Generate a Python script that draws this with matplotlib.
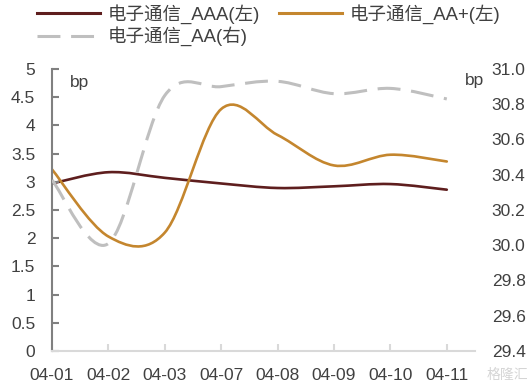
import numpy as np
import matplotlib
matplotlib.use("Agg")
import matplotlib.pyplot as plt
from matplotlib.path import Path
from matplotlib.patches import PathPatch
from matplotlib.lines import Line2D

plt.rcParams['font.family'] = ['Liberation Sans', 'Noto Sans CJK SC']

# 数据
dates = ["04-01", "04-02", "04-03", "04-07", "04-08", "04-09", "04-10", "04-11"]
aaa = [2.97, 3.17, 3.07, 2.97, 2.89, 2.92, 2.96, 2.86]        # 电子通信_AAA(左)
aa_plus = [3.22, 2.03, 2.10, 4.29, 3.83, 3.29, 3.48, 3.36]    # 电子通信_AA+(左)
aa = [30.37, 30.01, 30.85, 30.90, 30.93, 30.86, 30.89, 30.83]  # 电子通信_AA(右)

left_ticks = [0, 0.5, 1, 1.5, 2, 2.5, 3, 3.5, 4, 4.5, 5]
right_ticks = [29.4, 29.6, 29.8, 30.0, 30.2, 30.4, 30.6, 30.8, 31.0]

c_aaa = "#5E1E1E"
c_aap = "#C4862E"
c_aa = "#BFBFBF"
c_txt = "#404040"


def smooth_path(x, y):
    # 平滑曲线 (Catmull-Rom -> 贝塞尔控制点)
    x = np.asarray(x, float)
    y = np.asarray(y, float)
    n = len(x)
    tx = np.empty(n)
    ty = np.empty(n)
    for i in range(n):
        a = max(i - 1, 0)
        b = min(i + 1, n - 1)
        tx[i] = (x[b] - x[a]) / 2
        ty[i] = (y[b] - y[a]) / 2
    verts = [(x[0], y[0])]
    codes = [Path.MOVETO]
    for i in range(n - 1):
        verts += [(x[i] + tx[i] / 3, y[i] + ty[i] / 3),
                  (x[i + 1] - tx[i + 1] / 3, y[i + 1] - ty[i + 1] / 3),
                  (x[i + 1], y[i + 1])]
        codes += [Path.CURVE4] * 3
    return Path(verts, codes)


fig = plt.figure(figsize=(5.32, 3.9), dpi=100)
ax = fig.add_axes([52 / 532, 39 / 390, 423 / 532, 282 / 390])
ax2 = ax.twinx()

xs = np.arange(len(dates))
ax.add_patch(PathPatch(smooth_path(xs, aaa), fill=False, edgecolor=c_aaa, lw=1.9, capstyle='round'))
ax.add_patch(PathPatch(smooth_path(xs, aa_plus), fill=False, edgecolor=c_aap, lw=1.9, capstyle='round'))
ax2.add_patch(PathPatch(smooth_path(xs, aa), fill=False, edgecolor=c_aa, lw=2.2,
                        linestyle=(0, (7.5, 3.5))))

ax.set_xlim(0, 7.5)
ax.set_ylim(0, 5)
ax2.set_ylim(29.4, 31.0)

ax.set_xticks(xs)
ax.set_xticklabels(dates)
ax.set_yticks(left_ticks)
ax.set_yticklabels([f"{v:g}" for v in left_ticks])
ax2.set_yticks(right_ticks)
ax2.set_yticklabels([f"{v:.1f}" for v in right_ticks])

for s in ["top", "right"]:
    ax.spines[s].set_visible(False)
for s in ax2.spines.values():
    s.set_visible(False)
ax.spines["left"].set_color("#808080")
ax.spines["left"].set_linewidth(1.5)
ax.spines["bottom"].set_color("#D9D9D9")
ax.spines["bottom"].set_linewidth(1.5)

ax.tick_params(axis='y', direction='in', length=5, width=1.5, color="#808080",
               labelsize=12.5, labelcolor=c_txt, pad=12)
ax.tick_params(axis='x', direction='in', length=5, width=1.5, color="#D9D9D9",
               labelsize=12.5, labelcolor=c_txt, pad=12)
ax2.tick_params(axis='y', length=0, labelsize=12.5, labelcolor=c_txt, pad=12)

fig.text(70 / 532, 1 - 83 / 390, "bp", fontsize=12.5, color=c_txt, va='center', ha='left')
fig.text(465 / 532, 1 - 80 / 390, "bp", fontsize=12.5, color=c_txt, va='center', ha='left')

# 图例
handles = [Line2D([], [], color=c_aaa, lw=2.2),
           Line2D([], [], color=c_aa, lw=2.2, linestyle=(0, (7.5, 3.5))),
           Line2D([], [], color=c_aap, lw=2.2)]
labels = ["电子通信_AAA(左)", "电子通信_AA(右)", "电子通信_AA+(左)"]
fig.legend(handles, labels, loc='upper left', bbox_to_anchor=(37 / 532, 1 - 4 / 390),
           ncol=2, frameon=False, fontsize=13.3, handlelength=3.4, handletextpad=0.45,
           columnspacing=1.0, labelspacing=0.15, borderaxespad=0, borderpad=0,
           labelcolor=c_txt)

fig.text(528 / 532, 1 - 375 / 390, "格隆汇", fontsize=10, color="#D5D5D5", va='center', ha='right')

fig.savefig("out.png", dpi=100)
